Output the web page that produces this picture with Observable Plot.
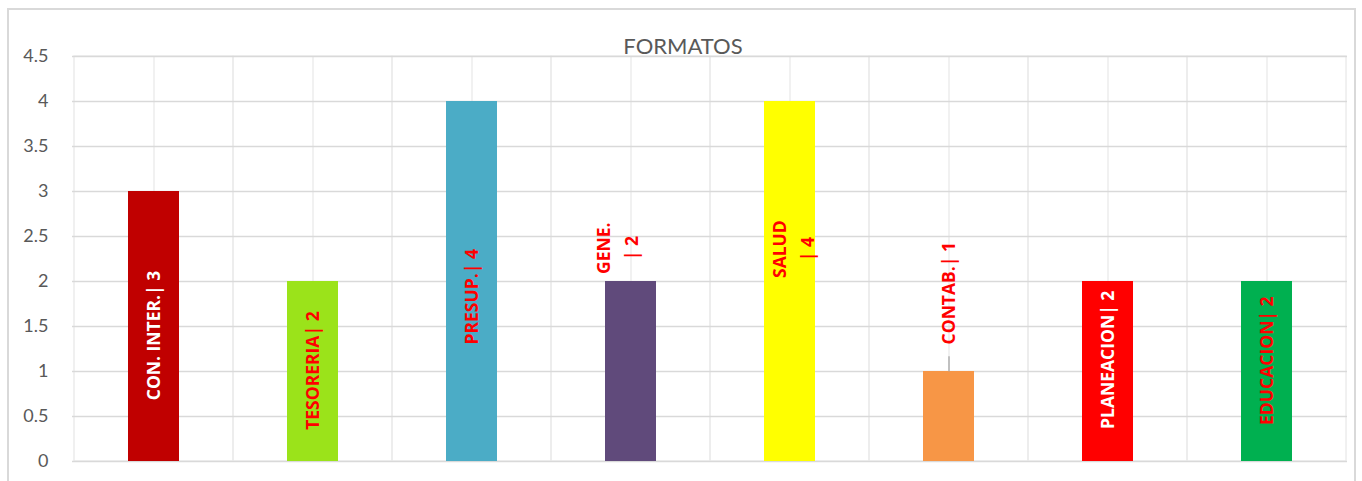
<!DOCTYPE html>
<html>
<head>
<meta charset="utf-8">
<script src="https://cdn.jsdelivr.net/npm/d3@7"></script>
<script src="https://cdn.jsdelivr.net/npm/@observablehq/plot@0.6"></script>
<style>
  html, body { margin: 0; padding: 0; background: #fff; overflow: hidden; }
  #wrap { position: relative; width: 1362px; height: 481px; }
  #border { position: absolute; left: 7px; top: 8px; width: 1349px; height: 520px; border: 2px solid #d9d9d9; box-sizing: border-box; pointer-events: none; }
  svg { font-family: Lato, "Open Sans", sans-serif; }
</style>
</head>
<body>
<div id="wrap"><div id="border"></div></div>
<script>
// ---- data ----
const categories = ["CON. INTER.", "TESORERIA", "PRESUP.", "GENE.", "SALUD", "CONTAB.", "PLANEACION", "EDUCACION"];
const values = [3, 2, 4, 2, 4, 1, 2, 2];
const labelTexts = ["CON. INTER.| 3", "TESORERIA| 2", "PRESUP.| 4", "GENE.\n| 2", "SALUD\n| 4", "CONTAB.| 1", "PLANEACION| 2", "EDUCACION| 2"];
const yTicks = [0, 0.5, 1, 1.5, 2, 2.5, 3, 3.5, 4, 4.5];
const title = "FORMATOS";

// ---- styling / placement ----
const barColors = ["#C00000", "#9BE31A", "#4BACC6", "#604A7B", "#FFFF00", "#F79646", "#FF0000", "#00B050"];
const labelColors = ["#ffffff", "#ff0000", "#ff0000", "#ff0000", "#ff0000", "#ff0000", "#ffffff", "#ff0000"];
const labelCenter = [1.40, 1.01, 1.83, 2.37, 2.36, 1.87, 1.13, 1.12];
const labelFont = "'Open Sans', Lato, sans-serif";
const labelSize = 17.5;

const rows = categories.map((c, i) => ({
  cat: c, value: values[i], label: labelTexts[i],
  fill: barColors[i], lc: labelColors[i], ly: labelCenter[i],
  multi: labelTexts[i].includes("\n")
}));

const chart = Plot.plot({
  width: 1362,
  height: 481,
  marginLeft: 72,
  marginRight: 15,
  marginTop: 56,
  marginBottom: 20,
  style: { background: "transparent", fontFamily: "Lato, 'Open Sans', sans-serif" },
  x: { domain: categories, padding: 0, axis: null },
  y: { domain: [0, 4.5], axis: null },
  marks: [
    Plot.cell(categories, { x: d => d, fill: "none", stroke: "#ececec", strokeWidth: 1.5 }),
    Plot.ruleX(categories, { x: d => d, stroke: "#ececec", strokeWidth: 1.5 }),
    Plot.gridY(yTicks, { stroke: "#d9d9d9", strokeOpacity: 1, strokeWidth: 1.5 }),
    Plot.axisY(yTicks, { tickSize: 0, tickPadding: 24, fontSize: 18, fill: "#595959", label: null, tickFormat: d => String(d) }),
    Plot.barY(rows, { x: "cat", y: "value", fill: "fill", insetLeft: 54, insetRight: 54 }),
    Plot.text(rows.filter(d => !d.multi), {
      x: "cat", y: "ly", text: "label", fill: "lc", rotate: -90, fontFamily: labelFont,
      fontSize: labelSize, fontWeight: "bold", textAnchor: "middle", lineAnchor: "middle"
    }),
    Plot.text(rows.filter(d => d.cat === "GENE."), {
      x: "cat", y: "ly", text: "label", fill: "lc", rotate: -90, dx: -16, fontFamily: labelFont,
      fontSize: labelSize, fontWeight: "bold", textAnchor: "middle", lineAnchor: "middle", lineHeight: 1.6
    }),
    Plot.text(rows.filter(d => d.cat === "SALUD"), {
      x: "cat", y: "ly", text: "label", fill: "lc", rotate: -90, dx: 1, fontFamily: labelFont,
      fontSize: labelSize, fontWeight: "bold", textAnchor: "middle", lineAnchor: "middle", lineHeight: 1.6
    }),
    Plot.link(rows.filter(d => d.cat === "CONTAB."), {
      x1: "cat", x2: "cat", y1: d => d.value, y2: d => d.value + 0.17, stroke: "#a6a6a6", strokeWidth: 1.3
    }),
    Plot.text([title], { frameAnchor: "top", dx: -27, dy: -10, fontSize: 22, fill: "#595959", lineAnchor: "middle" })
  ]
});
document.getElementById("wrap").prepend(chart);
</script>
</body>
</html>
